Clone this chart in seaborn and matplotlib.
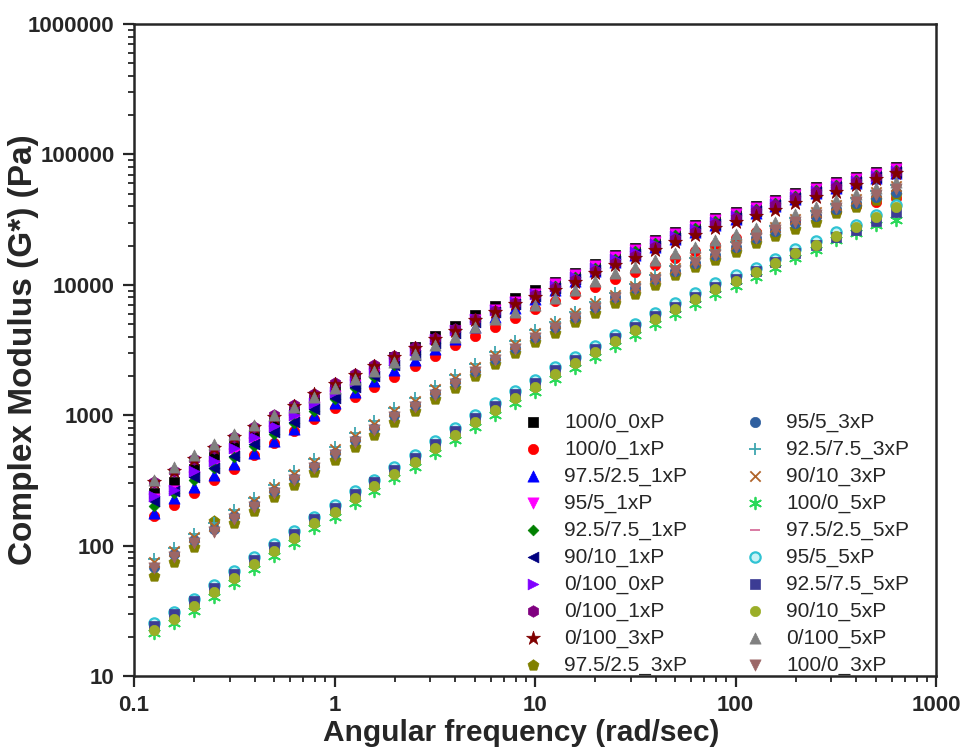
import warnings

import matplotlib
matplotlib.use("Agg")
import matplotlib.pyplot as plt
from matplotlib.ticker import FuncFormatter, LogLocator, NullFormatter
import pandas as pd
import seaborn as sns

warnings.filterwarnings("ignore", category=UserWarning)

sns.set_style("ticks")
plt.rcParams["font.family"] = ["Liberation Sans", "DejaVu Sans"]
plt.rcParams["font.weight"] = "bold"

# angular frequency, rad/sec
freq = [0.126, 0.158, 0.199, 0.251, 0.316, 0.398, 0.501, 0.631, 0.794, 1.0,
        1.26, 1.58, 1.99, 2.51, 3.16, 3.98, 5.01, 6.31, 7.94, 10.0,
        12.6, 15.8, 19.9, 25.1, 31.6, 39.8, 50.1, 63.1, 79.4, 100,
        126, 158, 199, 251, 316, 398, 501, 628]

# complex modulus G* (Pa), one list per sample
g_100_0_0xP = [251, 310, 390, 474, 576, 699, 864, 1050, 1300, 1580,
               1920, 2300, 2790, 3330, 4040, 4820, 5860, 6870, 7910, 9110,
               10500, 12400, 14500, 17000, 19200, 22200, 25500, 28900, 32700, 36300,
               40400, 44900, 50900, 56500, 61800, 67500, 73700, 80500]
g_100_0_1xP = [170, 206, 255, 316, 390, 491, 607, 750, 927, 1130,
               1370, 1640, 1960, 2380, 2840, 3450, 4040, 4740, 5560, 6510,
               7500, 8490, 9610, 11100, 12600, 14200, 16100, 18200, 20300, 23000,
               25500, 27900, 31000, 33900, 37000, 40400, 43400, 46600]
g_97_2_1xP = [179, 230, 279, 345, 419, 509, 629, 781, 999, 1240,
              1500, 1830, 2220, 2650, 3210, 3830, 4740, 5660, 6630, 7770,
              9150, 10700, 12800, 15000, 17000, 19600, 22600, 25500, 28900, 32100,
              35700, 40400, 45700, 50800, 55500, 60700, 66300, 72400]
g_95_5_1xP = [226, 260, 333, 411, 500, 607, 750, 915, 1150, 1400,
              1700, 2060, 2510, 2990, 3700, 4420, 5370, 6400, 7370, 8490,
              10200, 11900, 14000, 16400, 18600, 21400, 24600, 27900, 31500, 35100,
              39000, 43400, 49100, 54600, 59600, 65100, 71100, 77700]
g_92_7_1xP = [200, 255, 321, 391, 475, 576, 712, 868, 1070, 1330,
              1610, 1960, 2420, 2940, 3570, 4340, 5270, 6290, 7250, 8350,
              9820, 11500, 13500, 15800, 18200, 21000, 24200, 27400, 31000, 34500,
              38300, 42600, 48200, 53600, 58600, 64000, 69900, 76300]
g_90_10_1xP = [218, 260, 333, 397, 483, 596, 737, 883, 1110, 1350,
               1640, 1990, 2420, 2890, 3570, 4260, 5180, 6170, 7110, 8190,
               9480, 11100, 13000, 15300, 17300, 19900, 22900, 26000, 29400, 32700,
               37000, 41200, 46600, 51800, 56600, 61800, 67500, 73800]
g_0_100_0xP = [238, 269, 376, 449, 556, 675, 819, 999, 1240, 1500,
               1820, 2180, 2640, 3150, 3830, 4490, 5460, 6400, 7370, 8490,
               9820, 11500, 13500, 15800, 17900, 20600, 23800, 26900, 30500, 33900,
               37700, 41900, 47400, 52700, 57600, 62900, 68700, 75000]
g_0_100_1xP = [305, 376, 465, 565, 675, 805, 995, 1190, 1450, 1760,
               2060, 2420, 2840, 3330, 3900, 4570, 5460, 6290, 7250, 8350,
               9480, 10900, 12800, 14700, 16700, 19600, 22600, 25500, 29400, 32700,
               37000, 41200, 46600, 51800, 56600, 61800, 67500, 73800]
g_0_100_3xP = [310, 376, 465, 565, 675, 805, 977, 1170, 1450, 1730,
               2030, 2380, 2790, 3270, 3830, 4420, 5370, 6170, 7110, 8060,
               9150, 10500, 12400, 14200, 16100, 18600, 21400, 24200, 27400, 30500,
               33900, 37700, 42600, 47400, 51800, 58600, 65200, 72400]
g_97_2_3xP = [58.6, 75.1, 96.9, 153, 150, 185, 234, 289, 364, 450,
              566, 700, 880, 1070, 1330, 1610, 1990, 2460, 2990, 3640,
              4260, 5180, 6070, 7250, 8500, 10000, 11900, 13700, 15600, 17900,
              21000, 23800, 26900, 30500, 35700, 39700, 45000, 49100]
g_95_5_3xP = [68.7, 86.4, 110, 135, 170, 210, 260, 327, 411, 509,
              640, 792, 996, 1190, 1470, 1790, 2180, 2690, 3270, 3970,
              4740, 5660, 6750, 8050, 9440, 11100, 12800, 14800, 17000, 19600,
              23000, 26000, 29900, 33800, 38300, 42600, 47400, 51700]
g_92_7_3xP = [79.1, 96.1, 122, 150, 189, 233, 294, 370, 465, 575,
              724, 895, 1130, 1350, 1670, 2030, 2460, 3050, 3700, 4490,
              5180, 6180, 7370, 8640, 10100, 11900, 14000, 16100, 18600, 21400,
              24600, 28400, 32700, 37000, 41800, 46500, 52700, 58600]
g_90_10_3xP = [75.1, 91.2, 116, 142, 179, 221, 279, 351, 441, 546,
               687, 850, 1070, 1280, 1580, 1920, 2340, 2890, 3510, 4260,
               5080, 6070, 7240, 8340, 9780, 11500, 13500, 15500, 17900, 20600,
               24200, 27900, 32100, 36300, 41100, 45700, 51700, 57500]
g_100_0_5xP = [21.4, 25.5, 31.6, 40.4, 51.8, 66.3, 83.4, 105, 136, 167,
               211, 260, 327, 404, 509, 640, 806, 1000, 1240, 1500,
               1890, 2300, 2790, 3390, 4120, 5000, 5970, 7120, 8500, 9830,
               11500, 13500, 16100, 18600, 22200, 25100, 28900, 31600]
g_97_2_5xP = [23.4, 28.4, 35.7, 45.7, 58.5, 75.0, 94.4, 119, 153, 189,
              238, 294, 370, 457, 576, 724, 912, 1130, 1400, 1700,
              2140, 2600, 3160, 3830, 4660, 5650, 6750, 8050, 9610, 11100,
              13000, 15300, 18200, 21000, 24600, 28900, 34500, 41100]
g_95_5_5xP = [25.6, 31.0, 39.0, 49.9, 63.9, 81.9, 103, 130, 167, 206,
              260, 321, 404, 499, 629, 791, 995, 1240, 1530, 1860,
              2330, 2790, 3390, 4110, 5000, 6070, 7240, 8640, 10300, 11900,
              13500, 15800, 18900, 21800, 25500, 28900, 34500, 41100]
g_92_7_5xP = [24.2, 29.9, 37.7, 47.3, 60.6, 77.7, 97.8, 123, 159, 195,
              247, 305, 383, 473, 597, 750, 944, 1170, 1450, 1760,
              2220, 2640, 3210, 3900, 4740, 5750, 6750, 8050, 9610, 11100,
              12800, 15000, 17600, 20300, 23400, 26400, 31000, 36400]
g_90_10_5xP = [22.6, 27.4, 34.5, 44.1, 56.5, 72.4, 91.1, 115, 148, 182,
               230, 284, 357, 441, 556, 699, 880, 1090, 1350, 1640,
               2060, 2510, 3050, 3700, 4490, 5460, 6510, 7770, 9270, 10700,
               12600, 14800, 17600, 20300, 23800, 27900, 33300, 39700]
g_0_100_5xP = [321, 404, 499, 596, 712, 834, 995, 1150, 1370, 1610,
               1890, 2180, 2550, 2940, 3450, 3970, 4740, 5460, 6180, 6990,
               7950, 9160, 10700, 12400, 13700, 15600, 17600, 19600, 22200, 24600,
               27400, 30500, 35100, 39700, 45000, 50000, 55600, 61800]
g_100_0_3xP = [67.5, 82.0, 104, 128, 161, 199, 251, 316, 397, 491,
               618, 764, 961, 1150, 1420, 1730, 2140, 2640, 3210, 3900,
               4660, 5560, 6630, 7910, 9270, 10900, 12800, 14800, 17000, 19600,
               23000, 26400, 30500, 34500, 39000, 43400, 49100, 54600]

# (legend label, values, marker, colour) in legend order
series = [
    ("100/0_0xP", g_100_0_0xP, "s", "#000000"),
    ("100/0_1xP", g_100_0_1xP, "o", "#FF0000"),
    ("97.5/2.5_1xP", g_97_2_1xP, "^", "#0000FF"),
    ("95/5_1xP", g_95_5_1xP, "v", "#FF00FF"),
    ("92.5/7.5_1xP", g_92_7_1xP, "D", "#008000"),
    ("90/10_1xP", g_90_10_1xP, "<", "#000080"),
    ("0/100_0xP", g_0_100_0xP, ">", "#8000FF"),
    ("0/100_1xP", g_0_100_1xP, "h", "#800080"),
    ("0/100_3xP", g_0_100_3xP, "*", "#800000"),
    ("97.5/2.5_3xP", g_97_2_3xP, "p", "#808000"),
    ("95/5_3xP", g_95_5_3xP, "o", "#2F5F9F"),
    ("92.5/7.5_3xP", g_92_7_3xP, "+", "#3FA6B0"),
    ("90/10_3xP", g_90_10_3xP, "x", "#B0642A"),
    ("100/0_5xP", g_100_0_5xP, (6, 2, 0), "#2BD95A"),
    ("97.5/2.5_5xP", g_97_2_5xP, "_", "#D7709C"),
    ("95/5_5xP", g_95_5_5xP, "o", "#30C3D3"),
    ("92.5/7.5_5xP", g_92_7_5xP, "s", "#3C3C94"),
    ("90/10_5xP", g_90_10_5xP, "o", "#9BAE28"),
    ("0/100_5xP", g_0_100_5xP, "^", "#808080"),
    ("100/0_3xP", g_100_0_3xP, "v", "#9C6767"),
]

line_markers = {"+", "x", "_"}
sizes = {"s": 45, "o": 55, "^": 65, "v": 65, "D": 30, "<": 60, ">": 60,
         "h": 70, "*": 110, "p": 70, "+": 80, "x": 55, "_": 60}

fig = plt.figure(figsize=(9.62, 7.53), dpi=100)
ax = fig.add_axes([0.1393, 0.1023, 0.8337, 0.8658])

for label, values, marker, color in series:
    df = pd.DataFrame({"freq": freq, "modulus": values})
    key = marker if isinstance(marker, str) else "ast"
    if key in line_markers or key == "ast":
        sns.scatterplot(data=df, x="freq", y="modulus", ax=ax, label=label,
                        marker=marker, color=color, s=sizes.get(key, 70),
                        linewidth=1.3)
    elif label == "95/5_5xP":
        sns.scatterplot(data=df, x="freq", y="modulus", ax=ax, label=label,
                        marker=marker, facecolor="#C8F2F6", edgecolor=color,
                        s=sizes[key], linewidth=1.6)
    else:
        sns.scatterplot(data=df, x="freq", y="modulus", ax=ax, label=label,
                        marker=marker, color=color, edgecolor=color,
                        s=sizes[key], linewidth=0.5)

ax.set_xscale("log")
ax.set_yscale("log")
ax.set_xlim(0.1, 1000)
ax.set_ylim(10, 1000000)

ax.xaxis.set_major_formatter(FuncFormatter(lambda v, p: f"{v:g}"))
ax.yaxis.set_major_formatter(FuncFormatter(lambda v, p: f"{v:.0f}"))
ax.xaxis.set_minor_locator(LogLocator(base=10, subs=range(2, 10), numticks=50))
ax.yaxis.set_minor_locator(LogLocator(base=10, subs=range(2, 10), numticks=50))
ax.xaxis.set_minor_formatter(NullFormatter())
ax.yaxis.set_minor_formatter(NullFormatter())

ax.tick_params(which="major", direction="out", length=8, width=1.6,
               labelsize=16, top=False, right=False, pad=6)
ax.tick_params(which="minor", direction="out", length=4, width=1.3,
               top=False, right=False)
for side in ["left", "right", "top", "bottom"]:
    ax.spines[side].set_linewidth(1.8)
    ax.spines[side].set_visible(True)

ax.set_xlabel("Angular frequency (rad/sec)", fontsize=21.5, fontweight="bold")
ax.set_ylabel("Complex Modulus (G*) (Pa)", fontsize=24, fontweight="bold")
ax.xaxis.set_label_coords(0.483, -0.066)
ax.yaxis.set_label_coords(-0.118, 0.5)

ax.legend(ncol=2, frameon=False, loc="upper left",
          bbox_to_anchor=(0.479, 0.41), prop={"size": 15, "weight": "normal"},
          handlelength=1.0, handletextpad=1.0, columnspacing=2.77,
          labelspacing=0.37, borderaxespad=0.0, borderpad=0.2)

fig.savefig("out.png", dpi=100)
